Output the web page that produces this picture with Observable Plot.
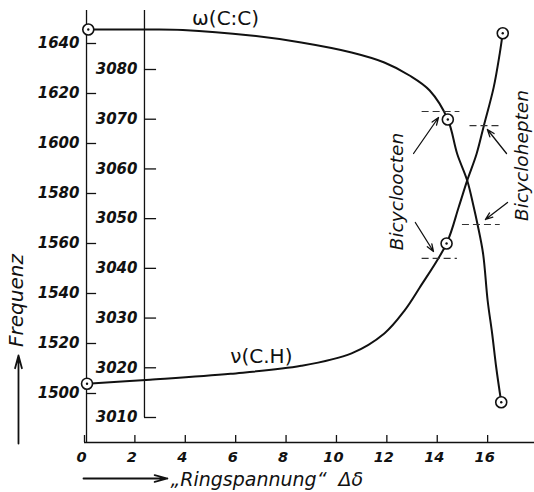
<!DOCTYPE html>
<html>
<head>
<meta charset="utf-8">
<script src="https://cdn.jsdelivr.net/npm/d3@7"></script>
<script src="https://cdn.jsdelivr.net/npm/@observablehq/plot@0.6"></script>
<style>
  html, body { margin: 0; padding: 0; background: #fff; }
  svg { font-family: "DejaVu Sans", sans-serif; }
</style>
</head>
<body>
<div id="chart"></div>
<script>
// ---- data ----
const xTicks = [0, 2, 4, 6, 8, 10, 12, 14, 16];
const leftTicks = [1500, 1520, 1540, 1560, 1580, 1600, 1620, 1640];     // ω(C:C) scale
const innerTicks = [3010, 3020, 3030, 3040, 3050, 3060, 3070, 3080];   // ν(C.H) scale

// ω(C:C) curve (left scale)
const omegaX = [0.15, 2.6, 3.9, 6.6, 8.6, 10.6, 11.9, 12.9, 13.7, 14.42, 14.79, 15.19, 15.45, 15.6, 15.82, 16.0, 16.18, 16.34, 16.54];
const omegaY = [1645.6, 1645.6, 1645.4, 1643.2, 1640.4, 1636.4, 1632.4, 1627.2, 1621.2, 1609.6, 1595.9, 1585.2, 1574.5, 1567.6, 1555.9, 1537.2, 1523.9, 1510.5, 1496.5];
const omegaPtsX = [0.15, 14.42, 16.54];
const omegaPtsY = [1645.6, 1609.6, 1496.5];

// ν(C.H) curve (inner scale)
const nuX = [0.1, 2.6, 5.8, 8.6, 10.6, 11.9, 12.7, 13.3, 14.37, 14.85, 15.19, 15.56, 15.85, 16.24, 16.48, 16.6];
const nuY = [3016.8, 3017.6, 3018.8, 3020.4, 3022.9, 3026.9, 3031.5, 3036.1, 3045.0, 3052.3, 3057.7, 3063.0, 3068.7, 3076.4, 3083.2, 3087.3];
const nuPtsX = [0.1, 14.37, 16.6];
const nuPtsY = [3016.8, 3045.0, 3087.3];

// marker dashes: compound, series, frequency, x range
const dashCompound = ["Bicycloocten", "Bicycloocten", "Bicyclohepten", "Bicyclohepten"];
const dashSeries = ["omega", "nu", "nu", "omega"];
const dashFreq = [1612.8, 3042, 3068.7, 1567.6];
const dashX1 = [13.4, 13.4, 15.3, 15.0];
const dashX2 = [14.9, 14.8, 16.6, 16.5];

// label arrows (x1, y1 -> x2, y2, left scale)
const arrX1 = [13.06, 13.13, 16.75, 16.79];
const arrY1 = [1596, 1568.4, 1596, 1576.4];
const arrX2 = [14.05, 13.85, 15.99, 15.91];
const arrY2 = [1610.4, 1556.8, 1605.6, 1569.6];

const labels = ["Bicycloocten", "Bicyclohepten"];
const labelX = [12.42, 17.38];
const labelY = [1580.8, 1595.2];

// ---- geometry helpers ----
const xDomain = [0, 17.86];
const yDomain = [1480.4, 1653.2];
const innerAxisX = 2.38;
const leftAxisX = 0.08;
// map ν(C.H) values onto the left frequency scale
const nuToLeft = v => 1490.4 + (v - 3010) * (139.2 / 70);

const omega = omegaX.map((x, i) => ({x, y: omegaY[i]}));
const nu = nuX.map((x, i) => ({x, y: nuToLeft(nuY[i])}));
const pts = [
  ...omegaPtsX.map((x, i) => ({x, y: omegaPtsY[i]})),
  ...nuPtsX.map((x, i) => ({x, y: nuToLeft(nuPtsY[i])}))
];
const dashes = dashFreq.map((f, i) => ({
  y: dashSeries[i] === "nu" ? nuToLeft(f) : f, x1: dashX1[i], x2: dashX2[i]
}));
const arrows = arrX1.map((x, i) => ({x1: x, y1: arrY1[i], x2: arrX2[i], y2: arrY2[i]}));
const lbls = labels.map((t, i) => ({t, x: labelX[i], y: labelY[i]}));
const inner = innerTicks.map(v => ({v, y: nuToLeft(v)}));

const numFont = {fontSize: 15, fontWeight: "bold", fontStyle: "italic", fill: "#111"};

const chart = Plot.plot({
  width: 534,
  height: 492,
  marginLeft: 84,
  marginRight: 0,
  marginTop: 10,
  marginBottom: 50,
  x: {domain: xDomain, axis: null},
  y: {domain: yDomain, axis: null},
  style: {background: "#fff", color: "#111", overflow: "visible"},
  marks: [
    // bottom axis
    Plot.ruleY([yDomain[0]], {x1: xDomain[0], x2: xDomain[1], stroke: "#111", strokeWidth: 1.3}),
    Plot.ruleX(xTicks, {x: d => d, y1: yDomain[0], y2: yDomain[0] + 2.8, stroke: "#111", strokeWidth: 1.3}),
    Plot.text(xTicks, {x: d => d, y: yDomain[0], dy: 15, dx: -3, text: d => String(d), ...numFont, fontSize: 14.5}),
    // left axis
    Plot.ruleX([leftAxisX], {y1: yDomain[0], y2: yDomain[1], stroke: "#111", strokeWidth: 1.3}),
    Plot.ruleY(leftTicks, {y: d => d, x1: leftAxisX, x2: leftAxisX + 0.4, stroke: "#111", strokeWidth: 1.3}),
    Plot.text(leftTicks, {x: 0, y: d => d, dx: -5, textAnchor: "end", text: d => String(d), ...numFont}),
    // inner ν axis
    Plot.ruleX([innerAxisX], {y1: nuToLeft(3010), y2: yDomain[1], stroke: "#111", strokeWidth: 1.3}),
    Plot.ruleY(inner, {y: "y", x1: innerAxisX, x2: innerAxisX + 0.48, stroke: "#111", strokeWidth: 1.3}),
    Plot.text(inner, {x: innerAxisX, y: "y", dx: -7, textAnchor: "end", text: d => String(d.v), ...numFont}),
    // curves
    Plot.line(omega, {x: "x", y: "y", curve: "catmull-rom", stroke: "#111", strokeWidth: 2}),
    Plot.line(nu, {x: "x", y: "y", curve: "catmull-rom", stroke: "#111", strokeWidth: 2}),
    // dashed level markers
    Plot.ruleY(dashes, {y: "y", x1: "x1", x2: "x2", stroke: "#333", strokeWidth: 1.2, strokeDasharray: "7,4"}),
    // arrows to points
    Plot.arrow(arrows, {x1: "x1", y1: "y1", x2: "x2", y2: "y2", stroke: "#111", strokeWidth: 1.3, headLength: 9, headAngle: 40}),
    // data points
    Plot.dot(pts, {x: "x", y: "y", r: 5.5, fill: "#fff", stroke: "#111", strokeWidth: 1.6}),
    Plot.dot(pts, {x: "x", y: "y", r: 1.2, fill: "#111"}),
    // compound labels
    Plot.text(lbls, {x: "x", y: "y", text: "t", rotate: -90, fontSize: 18.5, fontStyle: "italic", fill: "#111"}),
    // series labels
    Plot.text(["ω(C:C)"], {x: 5.6, y: 1650, text: d => d, fontSize: 20, letterSpacing: "1px", fill: "#111"}),
    Plot.text(["ν(C.H)"], {x: 7.02, y: 1514.8, text: d => d, fontSize: 20, letterSpacing: "1px", fill: "#111"}),
    // axis titles
    Plot.text(["Frequenz"], {x: -2.7, y: 1537.2, text: d => d, rotate: -90, fontSize: 20, fontStyle: "italic", fill: "#111"}),
    Plot.arrow([{x1: -2.62, y1: 1480, x2: -2.62, y2: 1515.2}], {x1: "x1", y1: "y1", x2: "x2", y2: "y2", stroke: "#111", strokeWidth: 1.8, headLength: 11, headAngle: 30}),
    Plot.arrow([{x1: -0.04, y1: 1466, x2: 3.29, y2: 1466}], {x1: "x1", y1: "y1", x2: "x2", y2: "y2", stroke: "#111", strokeWidth: 1.8, headLength: 11, headAngle: 30}),
    Plot.text(["„Ringspannung“  Δδ"], {x: 3.41, y: 1466, dy: 1, text: d => d, textAnchor: "start", fontSize: 19, fontStyle: "italic", fill: "#111"})
  ]
});
document.getElementById("chart").appendChild(chart);
</script>
</body>
</html>
